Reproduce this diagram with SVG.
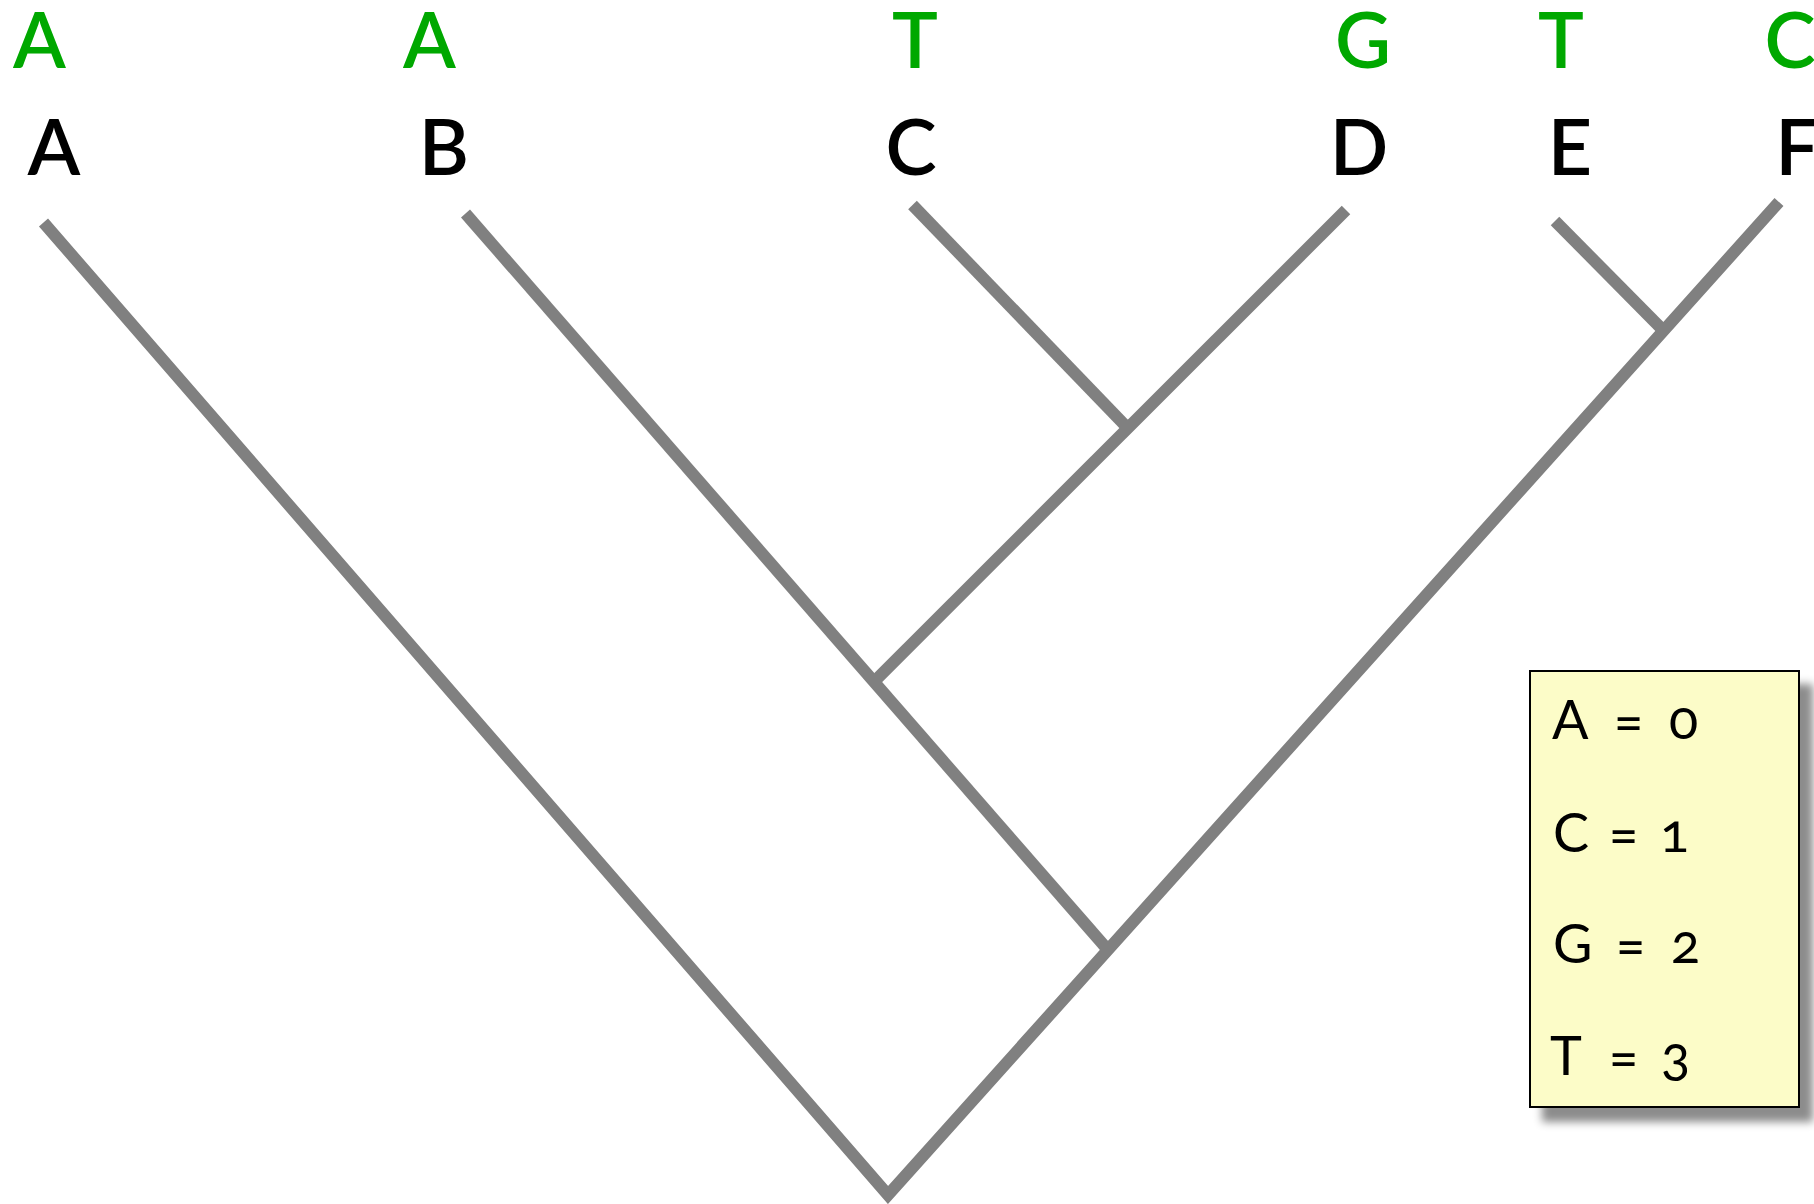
<svg xmlns="http://www.w3.org/2000/svg" width="1814" height="1204" viewBox="0 0 1814 1204">
  <defs>
    <filter id="boxShadow" x="-20%" y="-20%" width="140%" height="140%">
      <feDropShadow dx="13" dy="14" stdDeviation="4" flood-color="#000" flood-opacity="0.45"/>
    </filter>
    <style>
      .branch { fill: none; stroke: #808080; stroke-width: 12; stroke-linecap: butt; stroke-linejoin: miter; stroke-miterlimit: 10; }
      .taxon { font-family: Lato, "Open Sans", "DejaVu Sans", sans-serif; font-size: 77px; font-weight: 600; text-anchor: middle; }
      .base { fill: #00A800; }
      .name { fill: #000; }
      .key { font-family: Lato, "Open Sans", "DejaVu Sans", sans-serif; font-size: 54px; font-weight: 400; fill: #000; font-variant-numeric: oldstyle-nums; font-feature-settings: "onum" 1; }
    </style>
  </defs>

  <rect width="1814" height="1204" fill="#fff"/>

  <!-- tree branches -->
  <g id="connectors">
    <polyline class="branch" points="43.5,222.5 888,1195 1779,202"/>
    <line class="branch" x1="465.5" y1="213.5" x2="1108.2" y2="950.3"/>
    <line class="branch" x1="1346" y1="210" x2="873.3" y2="682.5"/>
    <line class="branch" x1="912.5" y1="205" x2="1127.5" y2="427.8"/>
    <line class="branch" x1="1555" y1="221" x2="1663.6" y2="330.7"/>
  </g>

  <!-- leaves: base above, taxon name below -->
  <g id="leaf-A">
    <text class="taxon base" x="39.5" y="68">A</text>
    <text class="taxon name" x="54" y="175">A</text>
  </g>
  <g id="leaf-B">
    <text class="taxon base" x="429.5" y="68">A</text>
    <text class="taxon name" x="444" y="175">B</text>
  </g>
  <g id="leaf-C">
    <text class="taxon base" x="915" y="68">T</text>
    <text class="taxon name" x="911" y="175">C</text>
  </g>
  <g id="leaf-D">
    <text class="taxon base" x="1363" y="68">G</text>
    <text class="taxon name" x="1359" y="175">D</text>
  </g>
  <g id="leaf-E">
    <text class="taxon base" x="1561" y="68">T</text>
    <text class="taxon name" x="1570" y="175">E</text>
  </g>
  <g id="leaf-F">
    <text class="taxon base" x="1790" y="68">C</text>
    <text class="taxon name" x="1797" y="175">F</text>
  </g>

  <!-- base-to-number key -->
  <g id="legend">
    <rect x="1530" y="671" width="269" height="436" fill="#FCFCC8" stroke="#000" stroke-width="2" filter="url(#boxShadow)"/>
    <text class="key" y="739"><tspan x="1552">A</tspan> <tspan x="1614">=</tspan> <tspan x="1669">0</tspan></text>
    <text class="key" y="852"><tspan x="1553">C</tspan> <tspan x="1609">=</tspan> <tspan x="1660">1</tspan></text>
    <text class="key" y="963"><tspan x="1553">G</tspan> <tspan x="1616">=</tspan> <tspan x="1671">2</tspan></text>
    <text class="key" y="1075"><tspan x="1550">T</tspan> <tspan x="1609">=</tspan> <tspan x="1661">3</tspan></text>
  </g>
</svg>
